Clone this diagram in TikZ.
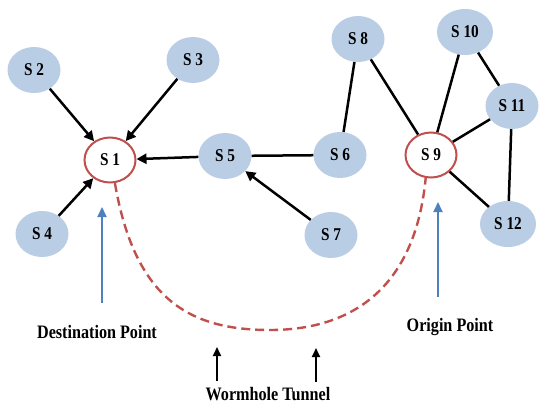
\documentclass[tikz,border=0pt]{standalone}
\usepackage{fontspec}
\setmainfont{Liberation Serif}[FakeStretch=0.85]
\usetikzlibrary{shapes.geometric,arrows.meta}
\definecolor{nodeblue}{HTML}{B9CDE5}
\definecolor{wred}{HTML}{C0504D}
\definecolor{ablue}{HTML}{4F81BD}
\tikzset{
  sensor/.style={ellipse, fill=nodeblue, minimum width=53pt, minimum height=46pt, inner sep=0pt, font=\fontsize{18}{18}\selectfont\bfseries},
  endpoint/.style={ellipse, fill=white, draw=wred, line width=2pt, minimum width=51pt, minimum height=45pt, inner sep=0pt, font=\fontsize{18}{18}\selectfont\bfseries},
  link/.style={line width=2.5pt, black},
  arr/.style={line width=2.5pt, black, -{Triangle[length=10pt,width=10pt]}},
  bluearr/.style={line width=2pt, ablue, -{Triangle[length=10pt,width=9pt]}},
  smallarr/.style={line width=2pt, black, -{Triangle[length=9pt,width=8pt]}},
  tunnel/.style={line width=2.4pt, wred, dash pattern=on 9pt off 5pt},
  lbl/.style={font=\fontsize{19}{19}\selectfont\bfseries, inner sep=0pt}
}
\begin{document}
\begin{tikzpicture}[x=1pt,y=-1pt]
\useasboundingbox (0,0) rectangle (539,407);
% nodes
\node[endpoint] (s1) at (110,160) {S 1};
\node[sensor] (s2) at (34,70) {S 2};
\node[sensor] (s3) at (193,60) {S 3};
\node[sensor] (s4) at (42,234) {S 4};
\node[sensor] (s5) at (225,156) {S 5};
\node[sensor] (s6) at (340,155) {S 6};
\node[sensor] (s7) at (331,235) {S 7};
\node[sensor] (s8) at (358,39) {S 8};
\node[endpoint] (s9) at (431,155) {S 9};
\node[sensor, minimum width=56pt] (s10) at (465,32) {S 10};
\node[sensor] (s11) at (512,106) {S 11};
\node[sensor, minimum width=56pt] (s12) at (508,224) {S 12};
% connectors
\draw[arr] (s2) -- (s1);
\draw[arr] (s3) -- (s1);
\draw[arr] (s4) -- (s1);
\draw[arr] (s5) -- (s1);
\draw[arr] (s7) -- (s5);
\draw[link] (s6) -- (s5);
\draw[link] (s8) -- (s6);
\draw[link] (s8) -- (s9);
\draw[link] (s10) -- (s9);
\draw[link] (s11) -- (s9);
\draw[link] (s12) -- (s9);
\draw[link] (s10) -- (s11);
\draw[link] (s11) -- (s12);
% wormhole tunnel
\coordinate (tb) at (270,330);
\draw[tunnel] (s1.-78) .. controls (135,300) and (190,330) .. (tb)
  .. controls (350,330) and (415,290) .. (s9.-103);
% labels
\node[lbl] (dest) at (97,332) {Destination Point};
\node[lbl] (orig) at (450,327) {Origin Point};
\node[lbl] (worm) at (268,394) {Wormhole Tunnel};
\coordinate (dtip) at (102,207);
\coordinate (dbase) at (102,303);
\coordinate (otip) at (438,202);
\coordinate (obase) at (438,297);
\draw[bluearr] (dbase) -- (dtip);
\draw[bluearr] (obase) -- (otip);
\coordinate (w1b) at (217,381);
\coordinate (w1t) at (217,347);
\coordinate (w2b) at (316,382);
\coordinate (w2t) at (316,348);
\draw[smallarr] (w1b) -- (w1t);
\draw[smallarr] (w2b) -- (w2t);
\end{tikzpicture}
\end{document}
